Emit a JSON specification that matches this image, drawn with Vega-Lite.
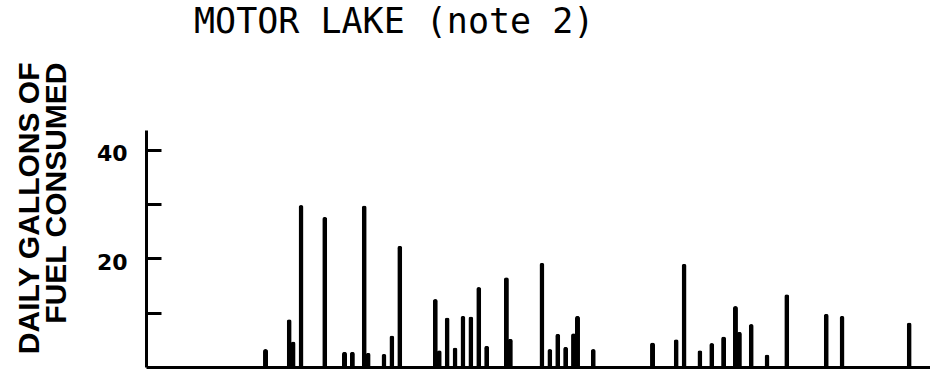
{
  "$schema": "https://vega.github.io/schema/vega-lite/v6.json",
  "autosize": "none",
  "width": 784,
  "height": 237,
  "padding": {"left": 146, "top": 130, "right": 0, "bottom": 2},
  "background": "white",
  "title": {
    "text": "MOTOR LAKE (note 2)",
    "anchor": "start",
    "font": "DejaVu Sans Mono",
    "fontSize": 35,
    "fontWeight": "normal",
    "color": "black",
    "baseline": "alphabetic",
    "offset": 27,
    "dx": 180,
    "dy": 33
  },
  "data": {
    "values": [
      {"day": 29, "gallons": 3.3},
      {"day": 35, "gallons": 8.8},
      {"day": 36, "gallons": 4.7},
      {"day": 38, "gallons": 29.8},
      {"day": 44, "gallons": 27.6},
      {"day": 49, "gallons": 2.8},
      {"day": 51, "gallons": 2.8},
      {"day": 54, "gallons": 29.7},
      {"day": 55, "gallons": 2.6},
      {"day": 59, "gallons": 2.4},
      {"day": 61, "gallons": 5.8},
      {"day": 63, "gallons": 22.3},
      {"day": 72, "gallons": 12.5},
      {"day": 73, "gallons": 3.1},
      {"day": 75, "gallons": 9.1},
      {"day": 77, "gallons": 3.6},
      {"day": 79, "gallons": 9.4},
      {"day": 81, "gallons": 9.3},
      {"day": 83, "gallons": 14.7},
      {"day": 85, "gallons": 3.9},
      {"day": 90, "gallons": 16.5},
      {"day": 91, "gallons": 5.2},
      {"day": 99, "gallons": 19.2},
      {"day": 101, "gallons": 3.3},
      {"day": 103, "gallons": 6.1},
      {"day": 105, "gallons": 3.7},
      {"day": 107, "gallons": 6.2},
      {"day": 108, "gallons": 9.4},
      {"day": 112, "gallons": 3.3},
      {"day": 127, "gallons": 4.5},
      {"day": 133, "gallons": 5.1},
      {"day": 135, "gallons": 19.0},
      {"day": 139, "gallons": 3.1},
      {"day": 142, "gallons": 4.4},
      {"day": 145, "gallons": 5.6},
      {"day": 148, "gallons": 11.2},
      {"day": 149, "gallons": 6.5},
      {"day": 152, "gallons": 7.9},
      {"day": 156, "gallons": 2.3},
      {"day": 161, "gallons": 13.4},
      {"day": 171, "gallons": 9.8},
      {"day": 175, "gallons": 9.4},
      {"day": 192, "gallons": 8.2}
    ]
  },
  "mark": {"type": "bar", "size": 5, "color": "black", "cornerRadiusEnd": 2.5},
  "encoding": {
    "x": {
      "field": "day",
      "type": "quantitative",
      "scale": {"domain": [0, 196], "nice": false, "zero": false},
      "axis": {
        "title": null,
        "labels": false,
        "ticks": false,
        "grid": false,
        "domain": true,
        "domainColor": "black",
        "domainWidth": 3
      }
    },
    "y": {
      "field": "gallons",
      "type": "quantitative",
      "scale": {"domain": [0, 43.6], "nice": false},
      "axis": {
        "title": ["DAILY GALLONS OF", "FUEL CONSUMED"],
        "titleFont": "Liberation Sans",
        "titleFontSize": 30,
        "titleFontWeight": "bold",
        "titleColor": "black",
        "titleAngle": 270,
        "titleAnchor": "end",
        "titleAlign": "right",
        "titleBaseline": "alphabetic",
        "titleLineHeight": 27,
        "titleX": -108,
        "titleY": -68,
        "values": [10, 20, 30, 40],
        "labelExpr": "datum.value == 20 || datum.value == 40 ? datum.label : ''",
        "labelFont": "DejaVu Sans",
        "labelFontSize": 22,
        "labelFontWeight": "bold",
        "labelColor": "black",
        "labelAlign": "right",
        "labelPadding": 34,
        "labelOffset": 4,
        "tickSize": -15,
        "tickWidth": 3,
        "tickColor": "black",
        "grid": false,
        "domainColor": "black",
        "domainWidth": 3
      }
    }
  },
  "config": {"view": {"stroke": null}}
}
